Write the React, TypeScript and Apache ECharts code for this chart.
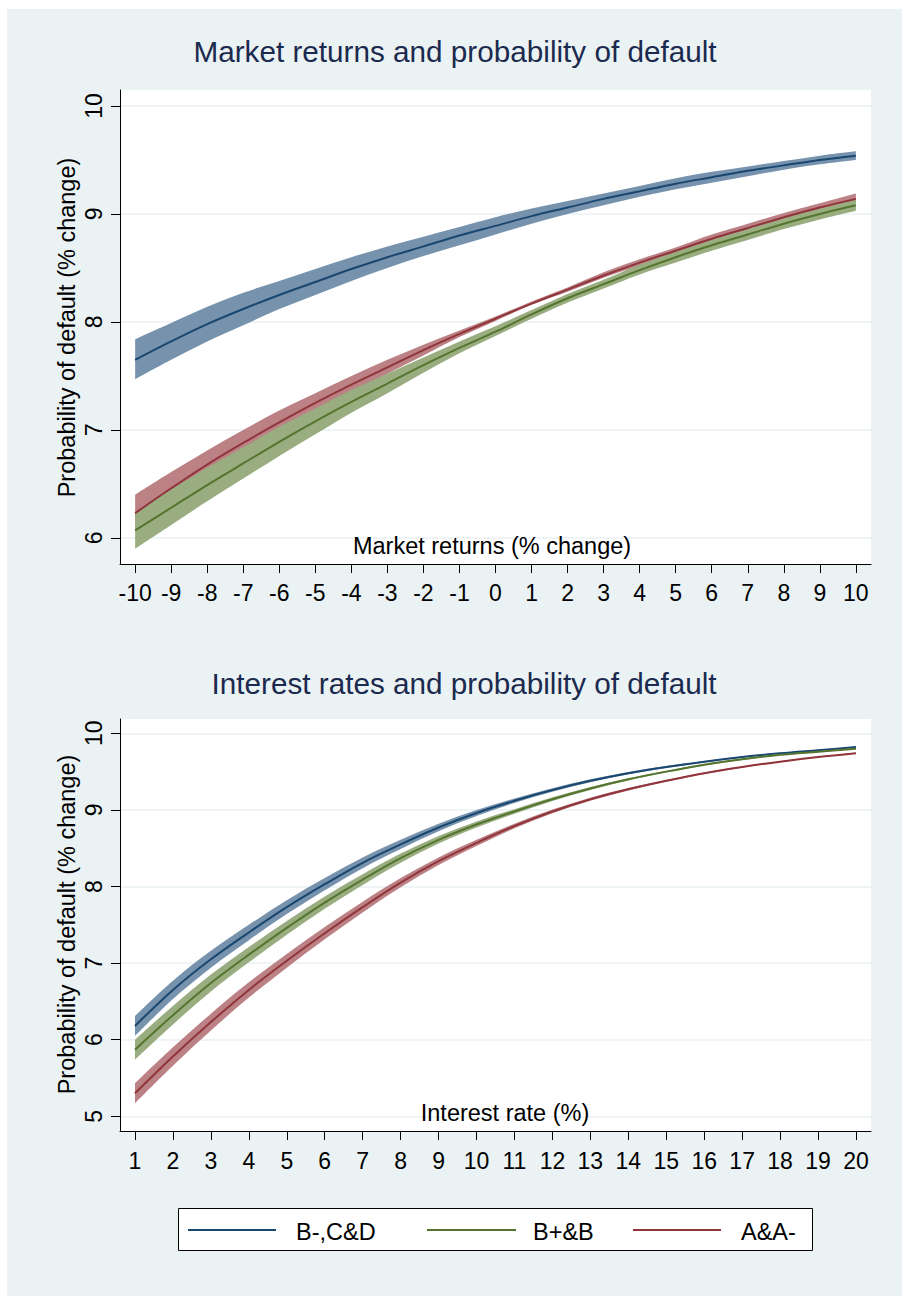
import React, { useEffect, useRef } from "react";
import * as echarts from "echarts";

// ---------- data ----------
const marketX = [-10, -9, -8, -7, -6, -5, -4, -3, -2, -1, 0, 1, 2, 3, 4, 5, 6, 7, 8, 9, 10];
const marketYTicks = [6, 7, 8, 9, 10];

const marketBlue = [7.65, 7.82, 7.98, 8.12, 8.25, 8.37, 8.49, 8.6, 8.7, 8.8, 8.89, 8.98, 9.06, 9.14, 9.21, 9.28, 9.34, 9.4, 9.45, 9.5, 9.54];
const marketBlueHi = [7.84, 7.99, 8.14, 8.27, 8.38, 8.49, 8.6, 8.7, 8.79, 8.88, 8.97, 9.05, 9.12, 9.19, 9.26, 9.33, 9.39, 9.44, 9.49, 9.54, 9.58];
const marketBlueLo = [7.47, 7.65, 7.82, 7.97, 8.12, 8.25, 8.38, 8.5, 8.61, 8.71, 8.81, 8.91, 9.0, 9.08, 9.16, 9.23, 9.29, 9.35, 9.41, 9.46, 9.5];

const marketGreen = [6.07, 6.28, 6.49, 6.69, 6.89, 7.08, 7.26, 7.43, 7.6, 7.76, 7.91, 8.07, 8.22, 8.35, 8.48, 8.6, 8.71, 8.81, 8.91, 9.0, 9.08];
const marketGreenHi = [6.24, 6.45, 6.65, 6.84, 7.03, 7.2, 7.37, 7.52, 7.67, 7.82, 7.96, 8.11, 8.26, 8.39, 8.53, 8.65, 8.76, 8.86, 8.96, 9.05, 9.13];
const marketGreenLo = [5.9, 6.12, 6.34, 6.55, 6.76, 6.96, 7.16, 7.34, 7.53, 7.71, 7.87, 8.03, 8.18, 8.31, 8.44, 8.55, 8.66, 8.76, 8.86, 8.95, 9.03];

const marketRed = [6.23, 6.46, 6.68, 6.88, 7.07, 7.25, 7.42, 7.58, 7.74, 7.89, 8.03, 8.17, 8.3, 8.43, 8.55, 8.66, 8.77, 8.87, 8.97, 9.06, 9.14];
const marketRedHi = [6.4, 6.61, 6.81, 7.0, 7.18, 7.34, 7.5, 7.65, 7.79, 7.92, 8.05, 8.19, 8.32, 8.46, 8.58, 8.69, 8.81, 8.91, 9.01, 9.1, 9.19];
const marketRedLo = [6.07, 6.32, 6.55, 6.77, 6.97, 7.16, 7.34, 7.52, 7.69, 7.86, 8.01, 8.16, 8.28, 8.41, 8.52, 8.63, 8.73, 8.83, 8.93, 9.02, 9.1];

const rateX = [1, 2, 3, 4, 5, 6, 7, 8, 9, 10, 11, 12, 13, 14, 15, 16, 17, 18, 19, 20];
const rateYTicks = [5, 6, 7, 8, 9, 10];

const rateBlue = [6.18, 6.65, 7.05, 7.4, 7.73, 8.03, 8.31, 8.55, 8.77, 8.96, 9.12, 9.26, 9.38, 9.48, 9.56, 9.63, 9.69, 9.74, 9.78, 9.82];
const rateBlueHi = [6.31, 6.77, 7.16, 7.5, 7.82, 8.11, 8.38, 8.61, 8.82, 9.0, 9.15, 9.284, 9.399, 9.495, 9.572, 9.64, 9.698, 9.747, 9.786, 9.825];
const rateBlueLo = [6.05, 6.53, 6.94, 7.3, 7.64, 7.95, 8.24, 8.49, 8.72, 8.92, 9.09, 9.236, 9.361, 9.465, 9.548, 9.62, 9.682, 9.733, 9.774, 9.815];

const rateGreen = [5.87, 6.32, 6.74, 7.11, 7.46, 7.79, 8.09, 8.37, 8.61, 8.81, 8.98, 9.14, 9.28, 9.4, 9.5, 9.59, 9.66, 9.72, 9.76, 9.8];
const rateGreenHi = [6.0, 6.44, 6.85, 7.21, 7.55, 7.87, 8.16, 8.43, 8.66, 8.85, 9.01, 9.164, 9.299, 9.415, 9.512, 9.6, 9.668, 9.727, 9.766, 9.805];
const rateGreenLo = [5.74, 6.2, 6.63, 7.01, 7.37, 7.71, 8.02, 8.31, 8.56, 8.77, 8.95, 9.116, 9.261, 9.385, 9.488, 9.58, 9.652, 9.713, 9.754, 9.795];

const rateRed = [5.3, 5.78, 6.23, 6.65, 7.03, 7.39, 7.73, 8.05, 8.33, 8.57, 8.79, 8.98, 9.14, 9.27, 9.38, 9.48, 9.56, 9.63, 9.69, 9.74];
const rateRedHi = [5.43, 5.9, 6.34, 6.75, 7.12, 7.47, 7.8, 8.11, 8.38, 8.61, 8.82, 9.004, 9.159, 9.285, 9.392, 9.49, 9.568, 9.637, 9.696, 9.745];
const rateRedLo = [5.17, 5.66, 6.12, 6.55, 6.94, 7.31, 7.66, 7.99, 8.28, 8.53, 8.76, 8.956, 9.121, 9.255, 9.368, 9.47, 9.552, 9.623, 9.684, 9.735];

const groupNames = ["B-,C&D", "B+&B", "A&A-"];

// ---------- styles ----------
const FONT = "'Liberation Sans', Arial, Helvetica, sans-serif";
const BG = "#eaf2f3";
const BLUE = "#1a476f";
const GREEN = "#55752f";
const RED = "#90353b";
const BLUE_BAND = "#7792ad";
const GREEN_BAND = "#99ad80";
const RED_BAND = "#bb8185";
const TITLE_COLOR = "#1b2a4e";
const TICK_FONT = 23;

function xAxisOpt(gridIndex: number, min: number, max: number, ticks: number[], margin: number) {
  return {
    type: "value",
    gridIndex,
    min,
    max,
    axisLine: { show: true, onZero: false, lineStyle: { color: "#000", width: 1 } },
    axisTick: { show: true, length: 9, lineStyle: { color: "#000", width: 1 }, customValues: ticks },
    axisLabel: { show: true, customValues: ticks, margin, fontSize: TICK_FONT, color: "#000", fontFamily: FONT },
    splitLine: { show: false },
  };
}

function yAxisOpt(gridIndex: number, min: number, max: number, ticks: number[]) {
  return {
    type: "value",
    gridIndex,
    min,
    max,
    axisLine: { show: true, onZero: false, lineStyle: { color: "#000", width: 1 } },
    axisTick: { show: true, length: 9, lineStyle: { color: "#000", width: 1 }, customValues: ticks },
    axisLabel: { show: true, customValues: ticks, rotate: 90, margin: 15, fontSize: TICK_FONT, color: "#000", fontFamily: FONT },
    splitLine: { show: true, lineStyle: { color: BG, width: 1.5 } },
  };
}

// cubic segments through pixel points (same idea as a line series' smooth option)
function smoothSegs(p: number[][]): string {
  let d = "";
  for (let i = 0; i < p.length - 1; i++) {
    const p0 = p[i - 1] || p[i];
    const p1 = p[i];
    const p2 = p[i + 1];
    const p3 = p[i + 2] || p2;
    const c1x = p1[0] + (p2[0] - p0[0]) / 6;
    const c1y = p1[1] + (p2[1] - p0[1]) / 6;
    const c2x = p2[0] - (p3[0] - p1[0]) / 6;
    const c2y = p2[1] - (p3[1] - p1[1]) / 6;
    d += ` C${c1x.toFixed(2)},${c1y.toFixed(2)} ${c2x.toFixed(2)},${c2y.toFixed(2)} ${p2[0].toFixed(2)},${p2[1].toFixed(2)}`;
  }
  return d;
}

function bandSeries(name: string, gi: number, xs: number[], lo: number[], hi: number[], fill: string) {
  return {
    type: "custom",
    name,
    xAxisIndex: gi,
    yAxisIndex: gi,
    z: 2,
    silent: true,
    data: xs.map((x, i) => [x, lo[i], hi[i]]),
    encode: { x: 0, y: [1, 2] },
    renderItem: (params: any, api: any) => {
      if (params.dataIndex !== 0) return null;
      const top: number[][] = xs.map((x, i) => api.coord([x, hi[i]]));
      const bot: number[][] = xs.map((x, i) => api.coord([x, lo[i]])).reverse();
      const d =
        `M${top[0][0].toFixed(2)},${top[0][1].toFixed(2)}` +
        smoothSegs(top) +
        ` L${bot[0][0].toFixed(2)},${bot[0][1].toFixed(2)}` +
        smoothSegs(bot) +
        " Z";
      return { type: "path", shape: { pathData: d }, style: { fill, stroke: null } };
    },
  };
}

function lineSeries(name: string, gi: number, xs: number[], ys: number[], color: string) {
  return {
    type: "line",
    name,
    xAxisIndex: gi,
    yAxisIndex: gi,
    z: 3,
    silent: true,
    showSymbol: false,
    symbol: "none",
    smooth: 0.33,
    data: xs.map((x, i) => [x, ys[i]]),
    lineStyle: { color, width: 2 },
    itemStyle: { color },
  };
}

function text(x: number, y: number, t: string, size: number, rotation = 0, align = "center", color = "#000") {
  return {
    type: "text",
    x,
    y,
    rotation,
    silent: true,
    z: 10,
    style: { text: t, fontSize: size, fontFamily: FONT, fill: color, align, verticalAlign: "middle" },
  };
}

export default function App() {
  const ref = useRef<HTMLDivElement>(null);

  useEffect(() => {
    if (!ref.current) return;
    const chart = echarts.init(ref.current, undefined, { renderer: "svg" });

    const option: any = {
      animation: false,
      backgroundColor: BG,
      title: [
        {
          text: "Market returns and probability of default",
          left: 455,
          top: 36,
          padding: 0,
          textAlign: "center",
          textStyle: { fontSize: 29.7, fontWeight: "normal", color: TITLE_COLOR, fontFamily: FONT },
        },
        {
          text: "Interest rates and probability of default",
          left: 464,
          top: 668,
          padding: 0,
          textAlign: "center",
          textStyle: { fontSize: 29.7, fontWeight: "normal", color: TITLE_COLOR, fontFamily: FONT },
        },
      ],
      grid: [
        { left: 120, top: 90, width: 751, height: 474, show: true, backgroundColor: "#fff", borderWidth: 0, outerBoundsMode: "none", containLabel: false },
        { left: 120, top: 719, width: 751, height: 412, show: true, backgroundColor: "#fff", borderWidth: 0, outerBoundsMode: "none", containLabel: false },
      ],
      xAxis: [
        xAxisOpt(0, -10.42, 10.42, marketX, 17),
        xAxisOpt(1, 0.605, 20.395, rateX, 18),
      ],
      yAxis: [
        yAxisOpt(0, 5.759, 10.148, marketYTicks),
        yAxisOpt(1, 4.808, 10.187, rateYTicks),
      ],
      series: [
        bandSeries(groupNames[0] + " CI", 0, marketX, marketBlueLo, marketBlueHi, BLUE_BAND),
        bandSeries(groupNames[2] + " CI", 0, marketX, marketRedLo, marketRedHi, RED_BAND),
        bandSeries(groupNames[1] + " CI", 0, marketX, marketGreenLo, marketGreenHi, GREEN_BAND),
        lineSeries(groupNames[0], 0, marketX, marketBlue, BLUE),
        lineSeries(groupNames[2], 0, marketX, marketRed, RED),
        lineSeries(groupNames[1], 0, marketX, marketGreen, GREEN),

        bandSeries(groupNames[0] + " CI ", 1, rateX, rateBlueLo, rateBlueHi, BLUE_BAND),
        bandSeries(groupNames[2] + " CI ", 1, rateX, rateRedLo, rateRedHi, RED_BAND),
        bandSeries(groupNames[1] + " CI ", 1, rateX, rateGreenLo, rateGreenHi, GREEN_BAND),
        lineSeries(groupNames[0], 1, rateX, rateBlue, BLUE),
        lineSeries(groupNames[2], 1, rateX, rateRed, RED),
        lineSeries(groupNames[1], 1, rateX, rateGreen, GREEN),
      ],
      graphic: [
        { type: "rect", silent: true, z: 0, shape: { x: 0, y: 0, width: 902, height: 9 }, style: { fill: "#fff" } },
        { type: "rect", silent: true, z: 0, shape: { x: 0, y: 0, width: 7, height: 1296 }, style: { fill: "#fff" } },

        text(492, 546, "Market returns (% change)", 23.5),
        text(505, 1112.5, "Interest rate (%)", 23.5),
        text(66.5, 327.5, "Probability of default (% change)", 23.5, Math.PI / 2),
        text(66.5, 924.5, "Probability of default (% change)", 23.5, Math.PI / 2),

        { type: "rect", silent: true, z: 5, shape: { x: 178.5, y: 1208.5, width: 634, height: 42 }, style: { fill: "#fff", stroke: "#000", lineWidth: 1 } },
        { type: "line", silent: true, z: 6, shape: { x1: 188, y1: 1230, x2: 276, y2: 1230 }, style: { stroke: BLUE, lineWidth: 2 } },
        { type: "line", silent: true, z: 6, shape: { x1: 427, y1: 1230, x2: 516, y2: 1230 }, style: { stroke: GREEN, lineWidth: 2 } },
        { type: "line", silent: true, z: 6, shape: { x1: 633, y1: 1230, x2: 721, y2: 1230 }, style: { stroke: RED, lineWidth: 2 } },
        text(296, 1232, groupNames[0], 23.5, 0, "left"),
        text(533, 1232, groupNames[1], 23.5, 0, "left"),
        text(741, 1232, groupNames[2], 23.5, 0, "left"),
      ],
    };

    chart.setOption(option);
    return () => chart.dispose();
  }, []);

  return (
    <div
      ref={ref}
      style={{ position: "absolute", left: 0, top: 0, width: 902, height: 1296 }}
    />
  );
}
